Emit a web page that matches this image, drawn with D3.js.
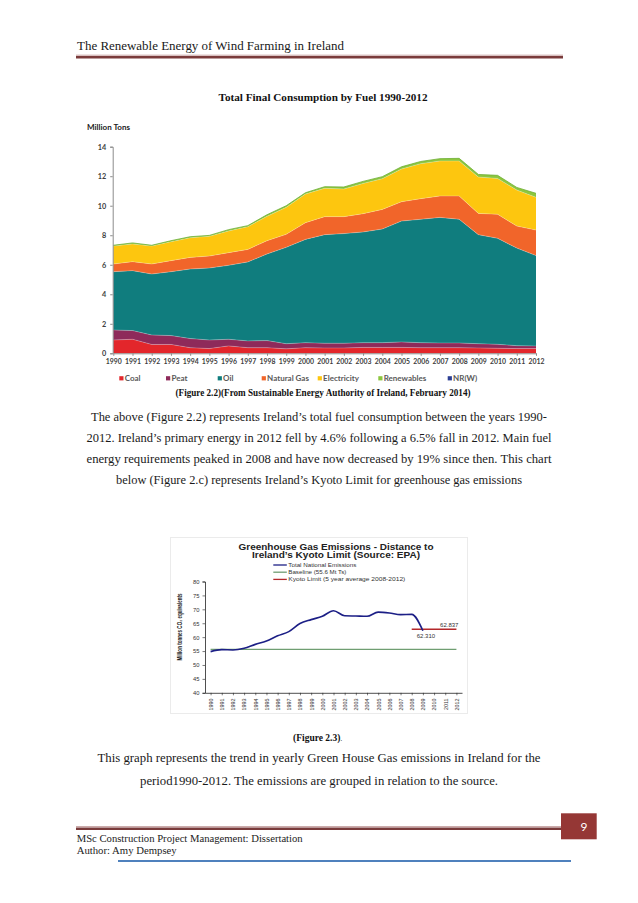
<!DOCTYPE html>
<html>
<head>
<meta charset="utf-8">
<script src="https://cdn.jsdelivr.net/npm/d3@7/dist/d3.min.js"></script>
<style>
  body { margin: 0; background: #fff; }
  svg { display: block; }
</style>
</head>
<body>
<svg id="page" width="638" height="903"></svg>
<script>
// ---- figure 2.2 : total final consumption by fuel (million tons) ----
const fuelYears = [1990, 1991, 1992, 1993, 1994, 1995, 1996, 1997, 1998, 1999, 2000, 2001,
  2002, 2003, 2004, 2005, 2006, 2007, 2008, 2009, 2010, 2011, 2012];
const fuelKeys = ["Coal", "Peat", "Oil", "Natural Gas", "Electricity", "Renewables", "NR(W)"];
const coal = [0.90, 0.95, 0.60, 0.60, 0.38, 0.32, 0.50, 0.38, 0.38, 0.30, 0.38, 0.36,
  0.36, 0.40, 0.40, 0.40, 0.38, 0.38, 0.38, 0.36, 0.34, 0.32, 0.32];
const peat = [0.68, 0.59, 0.64, 0.60, 0.62, 0.58, 0.45, 0.46, 0.48, 0.35, 0.34, 0.32,
  0.32, 0.32, 0.32, 0.37, 0.34, 0.32, 0.32, 0.29, 0.27, 0.20, 0.18];
const oil = [3.95, 4.06, 4.13, 4.33, 4.71, 4.88, 5.01, 5.35, 5.87, 6.53, 7.00, 7.36,
  7.43, 7.50, 7.70, 8.19, 8.36, 8.51, 8.38, 7.39, 7.18, 6.61, 6.12];
const naturalGas = [0.52, 0.61, 0.68, 0.75, 0.79, 0.81, 0.86, 0.85, 0.90, 0.88, 1.13, 1.22,
  1.15, 1.24, 1.33, 1.31, 1.40, 1.45, 1.58, 1.44, 1.63, 1.49, 1.73];
const electricity = [1.22, 1.20, 1.22, 1.28, 1.33, 1.34, 1.47, 1.54, 1.65, 1.83, 1.94, 1.92,
  1.87, 2.05, 2.08, 2.22, 2.37, 2.37, 2.37, 2.46, 2.43, 2.44, 2.22];
const renewables = [0.05, 0.07, 0.05, 0.07, 0.07, 0.06, 0.09, 0.07, 0.11, 0.11, 0.09, 0.11,
  0.14, 0.14, 0.14, 0.15, 0.15, 0.16, 0.18, 0.18, 0.21, 0.18, 0.27];
const nrw = [0, 0, 0, 0, 0, 0, 0, 0, 0, 0, 0, 0, 0, 0, 0, 0, 0, 0, 0, 0, 0, 0, 0];
const fuelTicks = [0, 2, 4, 6, 8, 10, 12, 14];
const fuelColors = ["#e3262b", "#8e2a5a", "#107d7e", "#f1652a", "#fdc60f", "#8cc63e", "#2c3f94"];

// ---- figure 2.3 : greenhouse gas emissions vs kyoto limit ----
const ghgYears = [1990, 1991, 1992, 1993, 1994, 1995, 1996, 1997, 1998, 1999, 2000, 2001,
  2002, 2003, 2004, 2005, 2006, 2007, 2008, 2009, 2010, 2011, 2012];
const totalEmissions = [54.8, 55.5, 55.4, 56.0, 57.4, 58.6, 60.5, 62.0, 64.9, 66.3, 67.5, 69.5,
  67.7, 67.6, 67.5, 69.0, 68.7, 68.1, 68.2, 62.31];
const baselineValue = 55.61;
const kyotoYears = [2008, 2012];
const kyotoLimit = 62.837;
const ghgTicks = [40, 45, 50, 55, 60, 65, 70, 75, 80];
const ghgLegend = ["Total National Emissions", "Baseline (55.6 Mt Ts)", "Kyoto Limit (5 year average 2008-2012)"];

// ---- page text ----
const headerText = "The Renewable Energy of Wind Farming in Ireland";
const paragraph1 = [
  "The above (Figure 2.2) represents Ireland\u2019s total fuel consumption between the years 1990-",
  "2012.  Ireland\u2019s primary energy in 2012 fell by 4.6% following a 6.5% fall in 2012. Main fuel",
  "energy requirements peaked in 2008 and have now decreased by 19% since then. This chart",
  "below (Figure 2.c) represents Ireland\u2019s Kyoto Limit for greenhouse gas emissions"
];
const paragraph2 = [
  "This graph represents the trend in yearly Green House Gas emissions in Ireland for the",
  "period1990-2012. The emissions are grouped in relation to the source."
];
const footerLines = ["MSc Construction Project Management: Dissertation", "Author: Amy Dempsey"];

const serif = "'Liberation Serif', 'DejaVu Serif', serif";
const sans = "Lato, 'Open Sans', 'Liberation Sans', sans-serif";
const arial = "'Liberation Sans', Arial, sans-serif";

const svg = d3.select("#page");
svg.append("rect").attr("width", 638).attr("height", 903).attr("fill", "#fff");

// header
svg.append("text")
  .attr("x", 77).attr("y", 50)
  .attr("font-family", serif).attr("font-size", 13.5).attr("fill", "#1a1a1a")
  .attr("textLength", 267).attr("lengthAdjust", "spacingAndGlyphs")
  .text(headerText);
svg.append("line").attr("x1", 76).attr("x2", 563).attr("y1", 55.2).attr("y2", 55.2)
  .attr("stroke", "#c7a3a3").attr("stroke-width", 1);
svg.append("line").attr("x1", 76).attr("x2", 563).attr("y1", 57.3).attr("y2", 57.3)
  .attr("stroke", "#7a3b3b").attr("stroke-width", 2.6);

// ================= chart 1 =================
svg.append("text")
  .attr("x", 323).attr("y", 101).attr("text-anchor", "middle")
  .attr("font-family", serif).attr("font-weight", "bold").attr("font-size", 11).attr("fill", "#111")
  .attr("textLength", 209).attr("lengthAdjust", "spacingAndGlyphs")
  .text("Total Final Consumption by Fuel 1990-2012");

svg.append("text")
  .attr("x", 87).attr("y", 129.5)
  .attr("font-family", sans).attr("font-weight", "bold").attr("font-size", 8).attr("fill", "#222")
  .attr("textLength", 43).attr("lengthAdjust", "spacingAndGlyphs")
  .text("Million Tons");

const table = fuelYears.map((yr, i) => ({
  year: yr,
  "Coal": coal[i], "Peat": peat[i], "Oil": oil[i], "Natural Gas": naturalGas[i],
  "Electricity": electricity[i], "Renewables": renewables[i], "NR(W)": nrw[i]
}));
const series = d3.stack().keys(fuelKeys)(table);

const x1 = d3.scaleLinear().domain([1990, 2012]).range([113.3, 536]);
const y1 = d3.scaleLinear().domain([0, 14]).range([353.3, 146.7]);
const color1 = d3.scaleOrdinal().domain(fuelKeys).range(fuelColors);

const area = d3.area()
  .x(d => x1(d.data.year))
  .y0(d => y1(d[0]))
  .y1(d => y1(d[1]));
const topLine = d3.line()
  .x(d => x1(d.data.year))
  .y(d => y1(d[1]));

const g1 = svg.append("g");
g1.selectAll("path.layer")
  .data(series)
  .join("path")
  .attr("class", "layer")
  .attr("fill", d => color1(d.key))
  .attr("d", area);
g1.selectAll("path.edge")
  .data(series.slice(0, 5))
  .join("path")
  .attr("class", "edge")
  .attr("fill", "none")
  .attr("stroke", "#ffffff").attr("stroke-opacity", 0.35).attr("stroke-width", 0.7)
  .attr("d", topLine);
g1.append("path")
  .attr("fill", "none").attr("stroke", "#6fae35").attr("stroke-width", 0.8)
  .attr("d", topLine(series[5]));

// axes chart 1
svg.append("g")
  .attr("transform", `translate(${x1(1990) - 0.6},0)`)
  .call(d3.axisLeft(y1).tickValues(fuelTicks).tickSize(2.5).tickPadding(4))
  .call(g => g.select(".domain").attr("stroke", "#8c8c8c"))
  .call(g => g.selectAll(".tick line").attr("stroke", "#8c8c8c"))
  .call(g => g.selectAll(".tick text")
    .attr("font-family", sans).attr("font-weight", "bold").attr("font-size", 7.3).attr("fill", "#404040"));

svg.append("g")
  .attr("transform", `translate(0,${y1(0)})`)
  .call(d3.axisBottom(x1).tickValues(fuelYears).tickFormat(d3.format("d")).tickSize(2.5).tickPadding(3).tickSizeOuter(0))
  .call(g => g.select(".domain").attr("stroke", "#8c8c8c"))
  .call(g => g.selectAll(".tick line").attr("stroke", "#8c8c8c"))
  .call(g => g.selectAll(".tick text")
    .attr("font-family", sans).attr("font-weight", "bold").attr("font-size", 6.9).attr("fill", "#404040"));

// legend chart 1
const legendPos = { "Coal": 119.3, "Peat": 166, "Oil": 217.7, "Natural Gas": 261.7, "Electricity": 317.7, "Renewables": 378.3, "NR(W)": 447.7 };
const leg1 = svg.append("g").selectAll("g")
  .data(fuelKeys)
  .join("g")
  .attr("transform", d => `translate(${legendPos[d]},378.5)`);
leg1.append("rect").attr("x", 0).attr("y", -2.3).attr("width", 4.2).attr("height", 4.2).attr("fill", d => color1(d));
leg1.append("text").attr("x", 5.4).attr("y", 2.5)
  .attr("font-family", sans).attr("font-weight", "bold").attr("font-size", 8).attr("fill", "#595959")
  .text(d => d);

svg.append("text")
  .attr("x", 323).attr("y", 396).attr("text-anchor", "middle")
  .attr("font-family", serif).attr("font-weight", "bold").attr("font-size", 9.5).attr("fill", "#111")
  .attr("textLength", 295).attr("lengthAdjust", "spacingAndGlyphs")
  .text("(Figure 2.2)(From Sustainable Energy Authority of Ireland, February 2014)");

// paragraph 1
const p1Widths = [456, 465, 465, 406];
svg.append("g").selectAll("text")
  .data(paragraph1)
  .join("text")
  .attr("x", 319).attr("y", (d, i) => 420.7 + i * 21.2)
  .attr("text-anchor", "middle")
  .attr("font-family", serif).attr("font-size", 13).attr("fill", "#1a1a1a")
  .attr("textLength", (d, i) => p1Widths[i]).attr("lengthAdjust", "spacingAndGlyphs")
  .text(d => d);

// ================= chart 2 =================
svg.append("rect")
  .attr("x", 170.5).attr("y", 537.5).attr("width", 297).attr("height", 176)
  .attr("fill", "#fff").attr("stroke", "#ebebeb").attr("stroke-width", 1);

svg.append("text")
  .attr("x", 336).attr("y", 550).attr("text-anchor", "middle")
  .attr("font-family", arial).attr("font-weight", "bold").attr("font-size", 8.2).attr("fill", "#222")
  .attr("textLength", 195).attr("lengthAdjust", "spacingAndGlyphs")
  .text("Greenhouse Gas Emissions - Distance to");
svg.append("text")
  .attr("x", 336).attr("y", 558).attr("text-anchor", "middle")
  .attr("font-family", arial).attr("font-weight", "bold").attr("font-size", 8.2).attr("fill", "#222")
  .attr("textLength", 168).attr("lengthAdjust", "spacingAndGlyphs")
  .text("Ireland\u2019s Kyoto Limit (Source: EPA)");

const x2 = d3.scalePoint().domain(ghgYears).range([205, 462]).padding(0.5);
const y2 = d3.scaleLinear().domain([40, 80]).range([692.8, 581.5]);
const ghgColors = ["#1c1f86", "#6f9e72", "#b3282b"];
const legendWidths = [68, 58, 117];

const leg2 = svg.append("g").selectAll("g")
  .data(ghgLegend)
  .join("g")
  .attr("transform", (d, i) => `translate(273.3,${565 + i * 7.2})`);
leg2.append("line").attr("x1", 0).attr("x2", 13.5).attr("stroke", (d, i) => ghgColors[i]).attr("stroke-width", 1.3);
leg2.append("text").attr("x", 15).attr("y", 2)
  .attr("font-family", arial).attr("font-size", 6).attr("fill", "#333")
  .attr("textLength", (d, i) => legendWidths[i]).attr("lengthAdjust", "spacingAndGlyphs")
  .text(d => d);

svg.append("g")
  .attr("transform", `translate(205,0)`)
  .call(d3.axisLeft(y2).tickValues(ghgTicks).tickSize(2.5).tickPadding(3))
  .call(g => g.select(".domain").attr("stroke", "#222").attr("stroke-width", 0.8))
  .call(g => g.selectAll(".tick line").attr("stroke", "#222").attr("stroke-width", 0.6))
  .call(g => g.selectAll(".tick text")
    .attr("font-family", arial).attr("font-size", 5.8).attr("fill", "#333"));

svg.append("g")
  .attr("transform", `translate(0,${y2(40)})`)
  .call(d3.axisBottom(x2).tickSize(2.5).tickSizeOuter(0))
  .call(g => g.select(".domain").attr("stroke", "#222").attr("stroke-width", 0.8))
  .call(g => g.selectAll(".tick line").attr("stroke", "#222").attr("stroke-width", 0.6))
  .call(g => g.selectAll(".tick text")
    .attr("font-family", arial).attr("font-size", 5.4).attr("fill", "#333")
    .attr("text-anchor", "end").attr("dx", "-0.3em").attr("dy", "0.35em")
    .attr("y", 0)
    .attr("transform", "translate(0,4) rotate(-90)"));

svg.append("text")
  .attr("transform", "translate(182,627) rotate(-90)")
  .attr("text-anchor", "middle")
  .attr("font-family", arial).attr("font-weight", "bold").attr("font-size", 6.5).attr("fill", "#222")
  .attr("textLength", 67).attr("lengthAdjust", "spacingAndGlyphs")
  .text("Million tonnes CO\u2082 equivalents");

// baseline
svg.append("path")
  .attr("fill", "none").attr("stroke", ghgColors[1]).attr("stroke-width", 1.4)
  .attr("d", d3.line().x(d => x2(d)).y(() => y2(baselineValue))([ghgYears[0], ghgYears[ghgYears.length - 1]]));
// kyoto limit
svg.append("path")
  .attr("fill", "none").attr("stroke", ghgColors[2]).attr("stroke-width", 1.4)
  .attr("d", d3.line().x(d => x2(d)).y(() => y2(kyotoLimit))(kyotoYears));
// total emissions
svg.append("path")
  .attr("fill", "none").attr("stroke", ghgColors[0]).attr("stroke-width", 1.6)
  .attr("stroke-linejoin", "round")
  .attr("d", d3.line().curve(d3.curveMonotoneX)
    .x((d, i) => x2(ghgYears[i])).y(d => y2(d))(totalEmissions));

svg.append("text")
  .attr("x", x2(2012) + 2).attr("y", y2(kyotoLimit) - 2).attr("text-anchor", "end")
  .attr("font-family", arial).attr("font-size", 6).attr("fill", "#333")
  .text(kyotoLimit.toFixed(3));
const last = totalEmissions[totalEmissions.length - 1];
svg.append("text")
  .attr("x", x2(2009) + 3).attr("y", y2(last) + 7.5).attr("text-anchor", "middle")
  .attr("font-family", arial).attr("font-size", 6).attr("fill", "#333")
  .text(last.toFixed(3));

// figure 2.3 caption
svg.append("text")
  .attr("x", 317.6).attr("y", 741).attr("text-anchor", "middle")
  .attr("font-family", serif).attr("font-size", 9.5).attr("fill", "#111")
  .call(t => t.append("tspan").attr("font-weight", "bold").text("(Figure 2.3)"))
  .call(t => t.append("tspan").attr("font-size", 7).text("."));

const p2Widths = [443, 358];
svg.append("g").selectAll("text")
  .data(paragraph2)
  .join("text")
  .attr("x", 319).attr("y", (d, i) => 762 + i * 23.2)
  .attr("text-anchor", "middle")
  .attr("font-family", serif).attr("font-size", 13).attr("fill", "#1a1a1a")
  .attr("textLength", (d, i) => p2Widths[i]).attr("lengthAdjust", "spacingAndGlyphs")
  .text(d => d);

// footer
svg.append("line").attr("x1", 76).attr("x2", 562).attr("y1", 826.6).attr("y2", 826.6)
  .attr("stroke", "#c7a3a3").attr("stroke-width", 1);
svg.append("line").attr("x1", 76).attr("x2", 562).attr("y1", 828.7).attr("y2", 828.7)
  .attr("stroke", "#7a3b3b").attr("stroke-width", 2.6);
svg.append("rect").attr("x", 561).attr("y", 813.3).attr("width", 35.7).attr("height", 26)
  .attr("fill", "#953735");
svg.append("text").attr("x", 584).attr("y", 831)
  .attr("text-anchor", "middle")
  .attr("font-family", sans).attr("font-size", 12).attr("fill", "#fff")
  .text("9");
const footW = [226, 100];
svg.append("g").selectAll("text")
  .data(footerLines)
  .join("text")
  .attr("x", 76.7).attr("y", (d, i) => 842 + i * 11.8)
  .attr("font-family", serif).attr("font-size", 10.5).attr("fill", "#222")
  .attr("textLength", (d, i) => footW[i]).attr("lengthAdjust", "spacingAndGlyphs")
  .text(d => d);
svg.append("line").attr("x1", 118).attr("x2", 571).attr("y1", 861).attr("y2", 861)
  .attr("stroke", "#4f81bd").attr("stroke-width", 2);
</script>
</body>
</html>
